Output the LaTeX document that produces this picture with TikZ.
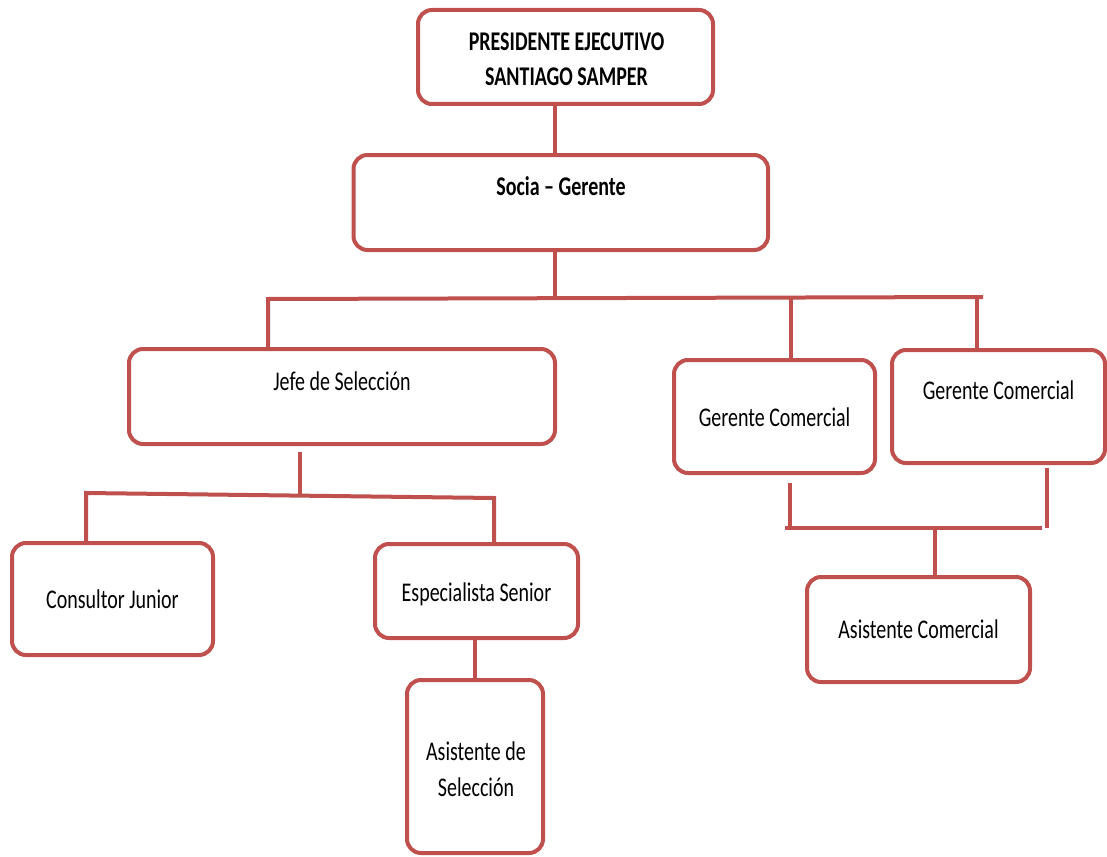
\documentclass[tikz,border=0pt]{standalone}
\usepackage{fontspec}
\setmainfont{Carlito}[FakeStretch=0.74]
\definecolor{cred}{RGB}{192,80,77}
\begin{document}
\begin{tikzpicture}[x=1pt,y=-1pt,
  box/.style args={#1/#2}{draw=cred, line width=4pt, rounded corners=14pt, fill=white,
    inner sep=0pt, minimum width=#1pt, minimum height=#2pt},
  lbl/.style={font=\fontsize{27}{32}\selectfont, anchor=base, inner sep=0pt, text=black},
  lblb/.style={lbl, font=\fontsize{27}{32}\selectfont\bfseries},
  conn/.style={draw=cred, line width=4pt}]
\useasboundingbox (0,0) rectangle (1107,856);
\fill[white] (0,0) rectangle (1107,856);

% coordinates for connector routing
\coordinate (xs) at (555,0);
\coordinate (busL) at (268,299);
\coordinate (busM) at (555,298);
\coordinate (busR) at (983,297);
\coordinate (dGa) at (791,298);
\coordinate (dGb) at (977,298);
\coordinate (jv1) at (300,452);
\coordinate (jv2) at (300,494);
\coordinate (jbL) at (86,493);
\coordinate (jbR) at (494,498);
\coordinate (gv1a) at (790,483);
\coordinate (gv1b) at (790,528);
\coordinate (gv2a) at (1047,468);
\coordinate (gv2b) at (1047,528);
\coordinate (gbL) at (785,528);
\coordinate (gbR) at (1042,528);
\coordinate (gbM) at (935,528);

% boxes
\node[box=295/94]  (pres)  at (565.5,57)   {};
\node[box=414.5/95] (socia) at (560.75,202.5) {};
\node[box=426/95]  (jefe)  at (342,396.5)  {};
\node[box=201/113] (gca)   at (774.5,416.5) {};
\node[box=213/113] (gcb)   at (998.5,406.5) {};
\node[box=201/112] (cons)  at (112.5,599)  {};
\node[box=203/94]  (esp)   at (476.5,591)  {};
\node[box=136/173] (asel)  at (475,766.5)  {};
\node[box=223/105] (acom)  at (918.5,629.5) {};

% connectors
\draw[conn] (pres.south -| xs) -- (socia.north -| xs);
\draw[conn] (socia.south -| xs) -- (busM);
\draw[conn] (jefe.north -| busL) -- (busL) -- (busR);
\draw[conn] (dGa) -- (gca.north -| dGa);
\draw[conn] (dGb) -- (gcb.north -| dGb);
\draw[conn] (jv1) -- (jv2);
\draw[conn] (cons.north -| jbL) -- (jbL) -- (jbR) -- (esp.north -| jbR);
\draw[conn] (esp.south -| asel.north) -- (asel.north);
\draw[conn] (gv1a) -- (gv1b);
\draw[conn] (gv2a) -- (gv2b);
\draw[conn] (gbL) -- (gbR);
\draw[conn] (gbM) -- (acom.north -| gbM);

% labels
\node[lblb] (tpres1) at (566.5,50.5) {PRESIDENTE EJECUTIVO};
\node[lblb] (tpres2) at (566.5,86) {SANTIAGO SAMPER};
\node[lblb] (tsocia) at (561,195) {Socia – Gerente};
\node[lbl] (tjefe) at (342,390) {Jefe de Selección};
\node[lbl] (tgca) at (774.5,426.7) {Gerente Comercial};
\node[lbl] (tgcb) at (998.5,399.3) {Gerente Comercial};
\node[lbl] (tcons) at (112.5,608.3) {Consultor Junior};
\node[lbl] (tesp) at (476.5,601.7) {Especialista Senior};
\node[lbl] (tasel1) at (476,760) {Asistente de};
\node[lbl] (tasel2) at (476,796.7) {Selección};
\node[lbl] (tacom) at (918.5,638.3) {Asistente Comercial};
\end{tikzpicture}
\end{document}
